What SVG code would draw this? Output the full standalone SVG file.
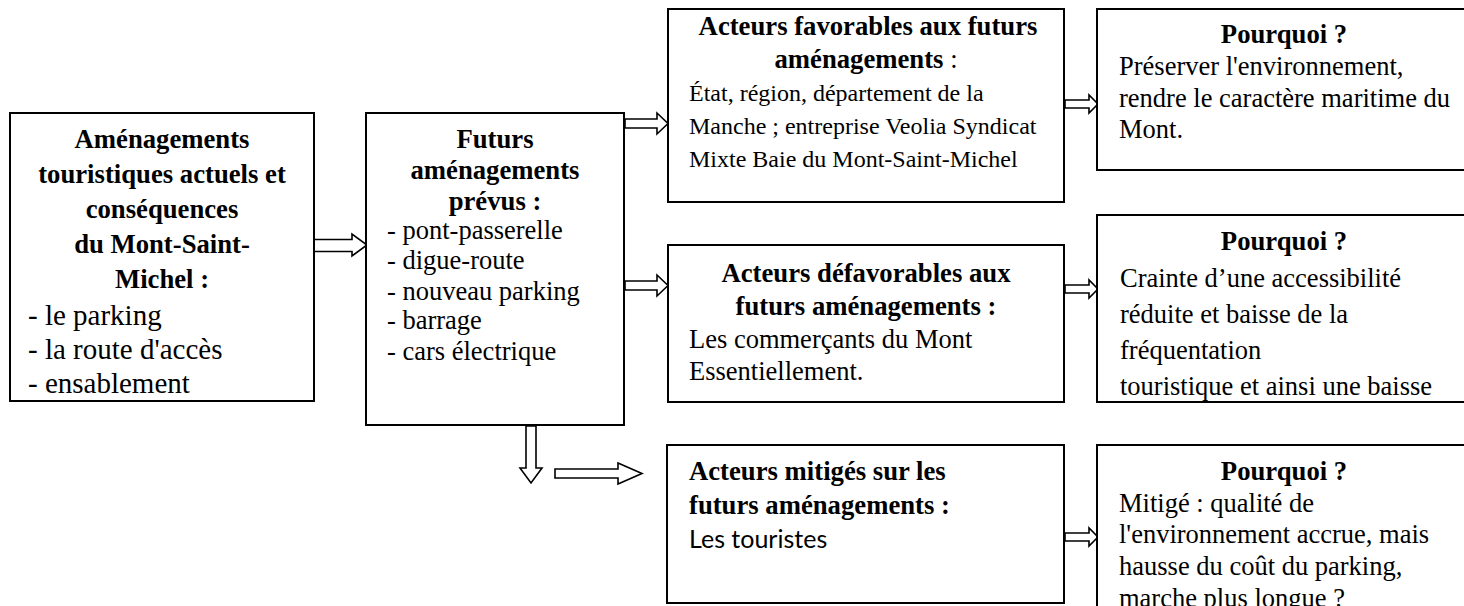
<svg xmlns="http://www.w3.org/2000/svg" width="1464" height="606" viewBox="0 0 1464 606">
<style>
.box{fill:#fff;stroke:#000;stroke-width:2}
.arr{fill:#fff;stroke:#000;stroke-width:1.6;stroke-linejoin:miter}
text{font-family:"Liberation Serif","Times New Roman",serif;fill:#000}
.b{font-weight:bold;font-size:26.7px}
.r{font-size:26.5px}
.c{text-anchor:middle}
.big{font-size:29px}
.sm{font-size:24px}
.sans{font-family:Lato,"Open Sans","Liberation Sans",sans-serif;font-size:25px}
</style>
<defs>
<clipPath id="clip6"><rect x="1098" y="216" width="366" height="185"/></clipPath>
</defs>
<rect width="1464" height="606" fill="#fff"/>

<g id="connectors">
<polygon class="arr" points="313,239.5 352,239.5 352,234 367,245 352,256 352,251.5 313,251.5"/>
<polygon class="arr" points="625,119 657,119 657,113 668,123.5 657,134 657,128 625,128"/>
<polygon class="arr" points="625,281 657,281 657,275 668,285.5 657,296 657,290 625,290"/>
<polygon class="arr" points="1065,100 1089,100 1089,95 1098,104 1089,113 1089,108 1065,108"/>
<polygon class="arr" points="1065,285 1089,285 1089,280 1098,289 1089,298 1089,293 1065,293"/>
<polygon class="arr" points="1065,533 1089,533 1089,528 1098,537 1089,546 1089,541 1065,541"/>
<polygon class="arr" points="526,426 526,468 520,468 531,483 542,468 536,468 536,426"/>
<polygon class="arr" points="555,469 618,469 618,463 642,473.5 618,484 618,478 555,478"/>
</g>

<g id="n-actuels">
<rect class="box" x="10" y="113" width="304" height="288"/>
<text class="b c" x="162" y="148">Aménagements</text>
<text class="b c" x="162" y="183">touristiques actuels et</text>
<text class="b c" x="162" y="218">conséquences</text>
<text class="b c" x="162" y="253">du Mont-Saint-</text>
<text class="b c" x="162" y="288">Michel :</text>
<text class="big" x="28" y="325">- le parking</text>
<text class="big" x="28" y="359">- la route d'accès</text>
<text class="big" x="28" y="393">- ensablement</text>
</g>

<g id="n-futurs">
<rect class="box" x="366" y="113" width="258" height="312"/>
<text class="b c" x="495" y="148">Futurs</text>
<text class="b c" x="495" y="179">aménagements</text>
<text class="b c" x="495" y="210">prévus :</text>
<text class="r" x="387" y="239">- pont-passerelle</text>
<text class="r" x="387" y="269">- digue-route</text>
<text class="r" x="387" y="300">- nouveau parking</text>
<text class="r" x="387" y="329">- barrage</text>
<text class="r" x="387" y="360">- cars électrique</text>
</g>

<g id="n-favorables">
<rect class="box" x="668" y="9" width="396" height="193"/>
<text class="b c" x="868" y="35">Acteurs favorables aux futurs</text>
<text class="c" x="866" y="68"><tspan class="b">aménagements</tspan><tspan class="r"> :</tspan></text>
<text class="sm" x="689" y="101">État, région, département de la</text>
<text class="sm" x="689" y="134">Manche ; entreprise Veolia Syndicat</text>
<text class="sm" x="689" y="167">Mixte Baie du Mont-Saint-Michel</text>
</g>

<g id="n-pourquoi1">
<rect class="box" x="1097" y="9" width="380" height="161"/>
<text class="b c" x="1284" y="43">Pourquoi ?</text>
<text class="r" x="1119" y="75">Préserver l'environnement,</text>
<text class="r" x="1119" y="107">rendre le caractère maritime du</text>
<text class="r" x="1119" y="138">Mont.</text>
</g>

<g id="n-defavorables">
<rect class="box" x="668" y="245" width="396" height="157"/>
<text class="b c" x="866" y="282">Acteurs défavorables aux</text>
<text class="b c" x="866" y="315">futurs aménagements :</text>
<text class="r" x="689" y="348">Les commerçants du Mont</text>
<text class="r" x="689" y="380">Essentiellement.</text>
</g>

<g id="n-pourquoi2">
<rect class="box" x="1097" y="215" width="380" height="187"/>
<g clip-path="url(#clip6)">
<text class="b c" x="1284" y="250">Pourquoi ?</text>
<text class="r" x="1120" y="287">Crainte d’une accessibilité</text>
<text class="r" x="1120" y="323">réduite et baisse de la</text>
<text class="r" x="1120" y="359">fréquentation</text>
<text class="r" x="1120" y="395">touristique et ainsi une baisse</text>
</g>
</g>

<g id="n-mitiges">
<rect class="box" x="667" y="445" width="397" height="158"/>
<text class="b" x="689" y="480">Acteurs mitigés sur les</text>
<text class="b" x="689" y="514">futurs aménagements :</text>
<text class="sans" x="689" y="548">Les touristes</text>
</g>

<g id="n-pourquoi3">
<rect class="box" x="1097" y="445" width="380" height="180"/>
<text class="b c" x="1284" y="480">Pourquoi ?</text>
<text class="r" x="1119" y="512">Mitigé : qualité de</text>
<text class="r" x="1119" y="543">l'environnement accrue, mais</text>
<text class="r" x="1119" y="575">hausse du coût du parking,</text>
<text class="r" x="1119" y="607">marche plus longue ?</text>
</g>
</svg>
